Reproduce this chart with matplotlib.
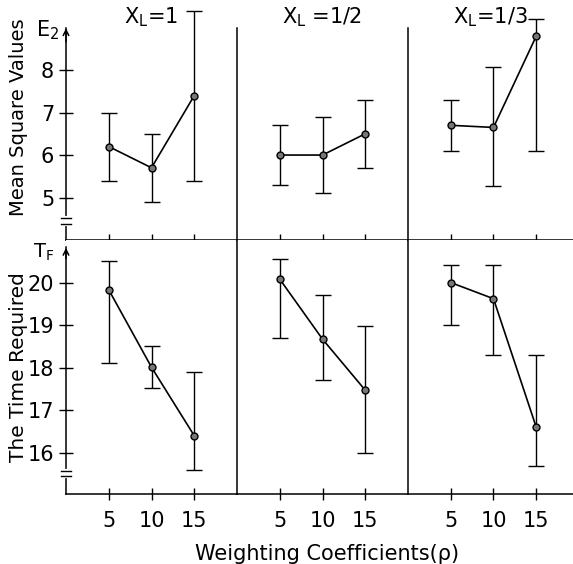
import matplotlib
matplotlib.use('Agg')
import matplotlib.pyplot as plt

plt.rcParams['font.family'] = ['DejaVu Sans']

# 数据: 权重系数 rho, 三种 X_L
rho = [5, 10, 15]
xl_titles = ['$\\mathregular{X_L}$=1', '$\\mathregular{X_L}$ =1/2', '$\\mathregular{X_L}$=1/3']

# 均方值 E2 (均值, 下限, 上限)
e2_mean = [[6.2, 5.7, 7.4], [6.0, 6.0, 6.5], [6.7, 6.65, 8.8]]
e2_low = [[5.4, 4.9, 5.4], [5.3, 5.1, 5.7], [6.1, 5.26, 6.1]]
e2_high = [[7.0, 6.5, 9.4], [6.7, 6.9, 7.3], [7.3, 8.07, 9.2]]

# 所需时间 TF
tf_mean = [[19.83, 18.01, 16.4], [20.08, 18.67, 17.47], [20.0, 19.62, 16.6]]
tf_low = [[18.1, 17.52, 15.6], [18.7, 17.7, 16.0], [19.0, 18.3, 15.68]]
tf_high = [[20.5, 18.5, 17.9], [20.56, 19.7, 18.99], [20.42, 20.42, 18.3]]

W, H = 573, 564
fig = plt.figure(figsize=(W / 100, H / 100), dpi=100)

lefts = [66, 237, 408]
widths = [171, 171, 165]
xmax = [20, 20, 19.3]


def add_break(ax, y1, y2):
    # 断轴标记
    ax.plot([0, 0], [y1, y2], color='white', lw=3, transform=ax.get_yaxis_transform(),
            clip_on=False, zorder=5)
    for yy in (y1, y2):
        ax.plot([-0.03, 0.03], [yy, yy], color='k', lw=1.0, transform=ax.get_yaxis_transform(),
                clip_on=False, zorder=6)


def style(ax, i, top):
    ax.spines['top'].set_visible(False)
    ax.spines['right'].set_visible(False)
    for s in ('left', 'bottom'):
        ax.spines[s].set_linewidth(1.1)
    ax.set_xlim(0, xmax[i])
    ax.set_xticks(rho)
    ax.tick_params(axis='x', direction='inout', length=9, width=1.0, labelsize=15, pad=8)
    if top:
        ax.tick_params(axis='x', labelbottom=False)
    if i > 0:
        ax.set_yticks([])


for i in range(3):
    # 上排: E2
    ax = fig.add_axes([lefts[i] / W, (H - 240) / H, widths[i] / W, 240 / H])
    ax.set_ylim(4.0, 9.65)
    style(ax, i, True)
    err = [[m - l for m, l in zip(e2_mean[i], e2_low[i])],
           [h - m for m, h in zip(e2_mean[i], e2_high[i])]]
    ax.errorbar(rho, e2_mean[i], yerr=err, fmt='none', ecolor='k', elinewidth=1.0, capsize=6,
                capthick=1.0)
    ax.plot(rho, e2_mean[i], color='k', lw=1.2, marker='o', ms=5, mfc='#777777', mec='k')
    ax.spines['left'].set_bounds(4.0, 9.0)
    ax.text(0.5, 0.93, xl_titles[i], transform=ax.transAxes, ha='center', va='center', fontsize=15)
    if i == 0:
        ax.set_yticks([5, 6, 7, 8])
        ax.tick_params(axis='y', direction='inout', length=10, width=1.0, labelsize=15)
        ax.annotate('', xy=(0, 9.05), xytext=(0, 8.6), xycoords=('axes fraction', 'data'),
                    arrowprops=dict(arrowstyle='->', lw=1.1, color='k'), annotation_clip=False)
        add_break(ax, 4.38, 4.52)
        ax.text(-0.11, 8.93, '$\\mathregular{E_2}$', transform=ax.get_yaxis_transform(),
                ha='center', va='center', fontsize=15)

    # 下排: TF
    ax = fig.add_axes([lefts[i] / W, (H - 494) / H, widths[i] / W, 254 / H])
    ax.set_ylim(15.03, 21.0)
    style(ax, i, False)
    err = [[m - l for m, l in zip(tf_mean[i], tf_low[i])],
           [h - m for m, h in zip(tf_mean[i], tf_high[i])]]
    ax.errorbar(rho, tf_mean[i], yerr=err, fmt='none', ecolor='k', elinewidth=1.0, capsize=6,
                capthick=1.0)
    ax.plot(rho, tf_mean[i], color='k', lw=1.2, marker='o', ms=5, mfc='#777777', mec='k')
    if i == 0:
        ax.spines['left'].set_bounds(15.03, 20.84)
        ax.set_yticks([16, 17, 18, 19, 20])
        ax.tick_params(axis='y', direction='inout', length=10, width=1.0, labelsize=15)
        ax.annotate('', xy=(0, 20.88), xytext=(0, 20.5), xycoords=('axes fraction', 'data'),
                    arrowprops=dict(arrowstyle='->', lw=1.1, color='k'), annotation_clip=False)
        add_break(ax, 15.45, 15.58)
        ax.text(-0.13, 20.7, '$\\mathregular{T_F}$', transform=ax.get_yaxis_transform(),
                ha='center', va='center', fontsize=14)

fig.text(19 / W, 1 - 117 / H, 'Mean Square Values', rotation=90, ha='center', va='center',
         fontsize=14)
fig.text(19 / W, 1 - 367 / H, 'The Time Required', rotation=90, ha='center', va='center',
         fontsize=14.5)
fig.text(327 / W, 1 - 554 / H, 'Weighting Coefficients(ρ)', ha='center', va='center', fontsize=15)

fig.savefig('out.png', dpi=100)
